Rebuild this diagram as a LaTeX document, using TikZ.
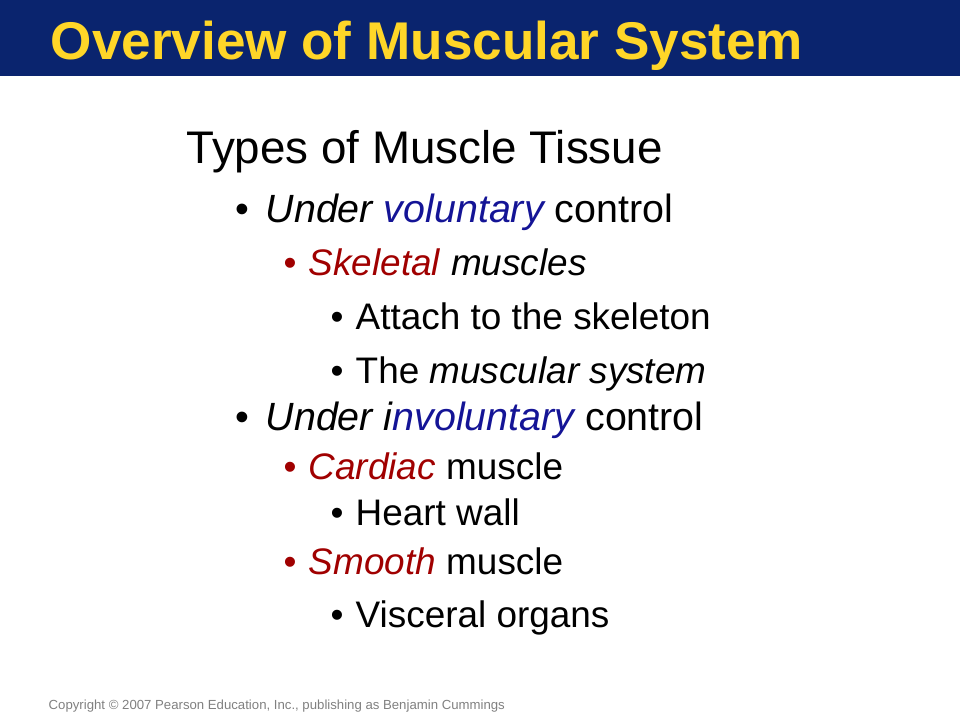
\documentclass[tikz,border=0pt]{standalone}
\usepackage{fontspec}
\setmainfont{Liberation Sans}
\definecolor{navy}{RGB}{10,36,110}
\definecolor{ttl}{RGB}{255,214,40}
\definecolor{vblue}{RGB}{20,20,150}
\definecolor{sred}{RGB}{160,0,0}
\begin{document}
\begin{tikzpicture}[x=0.01cm,y=-0.01cm,
  txt/.style={anchor=base west,inner sep=0pt},
  l1/.style={txt,font=\fontsize{13}{14}\selectfont},
  l2/.style={txt,font=\fontsize{11.2}{12}\selectfont},
  l3/.style={txt,font=\fontsize{10.5}{11}\selectfont}]
\useasboundingbox (0,0) rectangle (960,720);
\fill[navy] (0,0) rectangle (960,76);
\node[txt,text=ttl,font=\fontsize{15.1}{16}\bfseries\selectfont] (title) at (50,59) {Overview of Muscular System};
\node[l1] (types) at (186,163) {Types of Muscle Tissue};
\node[l2] (ab) at (235,222) {\textbullet};
\node[l2] (a) at (265,222) {\textit{Under \textcolor{vblue}{voluntary}} control};
\node[l3,text=sred] (bb) at (283,275) {\textbullet};
\node[l3] (b) at (308,275) {\textcolor{sred}{\textit{Skeletal}} \textit{muscles}};
\node[l3] (cb) at (330,329) {\textbullet};
\node[l3] (c) at (355,329) {Attach to the skeleton};
\node[l3] (db) at (330,383) {\textbullet};
\node[l3] (d) at (355,383) {The \textit{muscular system}};
\node[l2] (eb) at (235,430) {\textbullet};
\node[l2] (e) at (265,430) {\textit{Under i\textcolor{vblue}{nvoluntary}} control};
\node[l3,text=sred] (fb) at (283,479) {\textbullet};
\node[l3] (f) at (308,479) {\textcolor{sred}{\textit{Cardiac}} muscle};
\node[l3] (gb) at (330,525) {\textbullet};
\node[l3] (g) at (355,525) {Heart wall};
\node[l3,text=sred] (hb) at (283,574) {\textbullet};
\node[l3] (h) at (308,574) {\textcolor{sred}{\textit{Smooth}} muscle};
\node[l3] (ib) at (330,627) {\textbullet};
\node[l3] (i) at (355,627) {Visceral organs};
\node[txt,text=gray,font=\fontsize{3.75}{4}\selectfont] (copy) at (48,709) {Copyright © 2007 Pearson Education, Inc., publishing as Benjamin Cummings};
\end{tikzpicture}
\end{document}
